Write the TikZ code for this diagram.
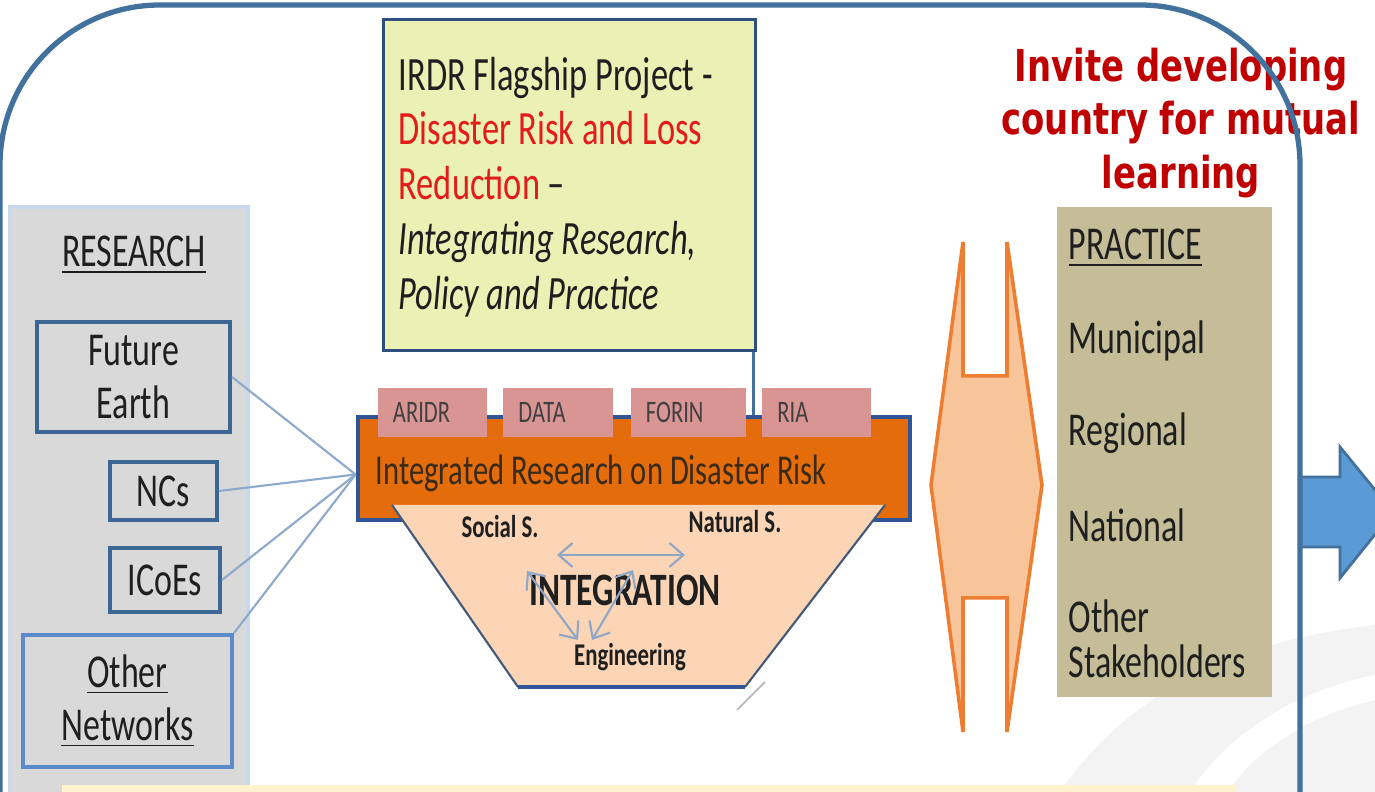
\documentclass[tikz,border=0pt]{standalone}
\usepackage{fontspec}
\usepackage{xcolor}
\usepackage{tikz}
\usetikzlibrary{arrows.meta, positioning}

\newfontfamily\calib{Carlito}[FakeStretch=0.72]
\newfontfamily\verd{DejaVu Sans}[FakeStretch=0.77]

\definecolor{frameblue}{HTML}{41719C}
\definecolor{boxblue}{HTML}{3B6696}
\definecolor{netblue}{HTML}{5B8BC9}
\definecolor{panelgray}{HTML}{D9D9D9}
\definecolor{paneledge}{HTML}{C9D8EA}
\definecolor{linkblue}{HTML}{8DA9CC}
\definecolor{flagyellow}{HTML}{EBF0B5}
\definecolor{flagedge}{HTML}{2F4F7F}
\definecolor{flagred}{HTML}{E31B1B}
\definecolor{irdrorange}{HTML}{E46C0A}
\definecolor{irdredge}{HTML}{2E5597}
\definecolor{irdrtext}{HTML}{3A2A1A}
\definecolor{tabpink}{HTML}{D99594}
\definecolor{tabtext}{HTML}{404040}
\definecolor{funnelfill}{HTML}{FBD5B5}
\definecolor{funneledge}{HTML}{44587A}
\definecolor{arrowgray}{HTML}{8FA6C4}
\definecolor{hexfill}{HTML}{F8C49A}
\definecolor{hexline}{HTML}{ED7D31}
\definecolor{practicefill}{HTML}{C4BD97}
\definecolor{titlered}{HTML}{C00000}
\definecolor{arrowfill}{HTML}{5B9BD5}
\definecolor{stripyellow}{HTML}{FFF2CC}
\definecolor{textdark}{HTML}{1F1F1F}
\definecolor{wmgray}{HTML}{F3F3F4}

\begin{document}
\begin{tikzpicture}[
    x=0.01cm, y=-0.01cm,
    every node/.style={text=textdark},
    orgbox/.style={draw=boxblue, line width=1.1pt, fill=panelgray, align=center, inner sep=0pt,
        font=\calib\fontsize{13.4}{15}\selectfont},
    tabbox/.style={fill=tabpink, minimum height=0.49cm, text width=0.79cm, inner xsep=0.15cm,
        inner ysep=0pt, align=left, text=tabtext, font=\calib\fontsize{8.9}{10}\selectfont},
    linkline/.style={draw=linkblue, line width=0.6pt},
    practext/.style={anchor=west, align=left, inner sep=0pt, font=\calib\fontsize{13.4}{12.9}\selectfont},
    funnellabel/.style={inner sep=0pt, font=\calib\bfseries\fontsize{9}{10}\selectfont},
    intarrow/.style={draw=arrowgray, line width=0.6pt,
        {Straight Barb[length=1.4mm, width=2.4mm]}-{Straight Barb[length=1.4mm, width=2.4mm]}},
  ]
\useasboundingbox (0,0) rectangle (1375,792);
\clip (0,0) rectangle (1375,792);
\fill[white] (0,0) rectangle (1375,792);
% faint backdrop
\fill[wmgray] (1060,792) .. controls (1130,690) and (1240,640) .. (1375,625) -- (1375,792) -- cycle;
\fill[white] (1190,792) .. controls (1230,730) and (1300,690) .. (1375,675) -- (1375,700)
  .. controls (1310,715) and (1255,750) .. (1228,792) -- cycle;

% research side
\draw[fill=panelgray, draw=paneledge, line width=1pt] (10,207) rectangle (248,800);
\node[inner sep=0pt, font=\calib\fontsize{13.4}{15}\selectfont] (restitle) at (134,255) {\underline{RESEARCH}};
\node[orgbox, minimum width=1.93cm, minimum height=1.10cm] (future) at (133.5,377) {Future\\Earth};
\node[orgbox, minimum width=1.07cm, minimum height=0.58cm] (ncs) at (163.5,491) {NCs};
\node[orgbox, minimum width=1.10cm, minimum height=0.64cm] (icoes) at (165,580) {ICoEs};
\node[orgbox, draw=netblue, minimum width=2.09cm, minimum height=1.32cm] (othernet) at (127.5,701) {\underline{Other}\\\underline{Networks}};

% flagship box
\node[draw=flagedge, line width=0.9pt, fill=flagyellow, minimum width=3.71cm, minimum height=3.30cm] (flag) at (569.5,185) {};
\node[anchor=west, align=left, inner sep=0pt, font=\calib\fontsize{13.6}{15.6}\selectfont] (flagtext) at (398,187)
      {IRDR Flagship Project -\\
       \textcolor{flagred}{Disaster Risk and Loss}\\
       \textcolor{flagred}{Reduction} –\\
       \textit{Integrating Research,}\\
       \textit{Policy and Practice}};
\draw[frameblue, line width=1pt] ([xshift=-0.03cm]flag.south east) -- ++(0,82);

% IRDR box and tabs
\node[draw=irdredge, line width=1.3pt, fill=irdrorange, minimum width=5.52cm, minimum height=1.03cm, inner sep=0pt] (irdr) at (634,468.5) {};
\node[tabbox] (aridr) at (432.5,412.5) {ARIDR};
\node[tabbox, right=0.15cm of aridr] (data) {DATA};
\node[tabbox, text width=0.85cm, right=0.17cm of data] (forin) {FORIN};
\node[tabbox, right=0.15cm of forin] (ria) {RIA};
\node[anchor=west, inner sep=0pt, text=irdrtext, font=\calib\fontsize{12.1}{14}\selectfont] (irdrlabel) at (375,473) {Integrated Research on Disaster Risk};

\foreach \src/\anc in {future/east, ncs/east, icoes/east, othernet/north east}
  \draw[linkline] (\src.\anc) -- ([yshift=-0.06cm]irdr.west);

% funnel
\fill[funnelfill] (392,505) -- (885,505) -- (745,687) -- (518,687) -- cycle;
\draw[funneledge, line width=0.6pt] (392,505) -- (518,687) (745,687) -- (885,505);
\draw[irdredge, line width=1.3pt] (518,687) -- (745,687);
\draw[gray!60, line width=0.5pt] (765,682) -- (737,710);

\node[funnellabel] (social) at (500,527) {Social S.};
\node[funnellabel] (natural) at (735,522) {Natural S.};
\node[inner sep=0pt, font=\calib\bfseries\fontsize{13.2}{14}\selectfont] (integ) at (625,590) {INTEGRATION};
\node[funnellabel] (eng) at (630,657) {Engineering};

\coordinate (sL) at (557,555);
\coordinate (sR) at (685,555);
\coordinate (dL) at (527,571);
\coordinate (dR) at (633,570);
\coordinate (eL) at (578,640);
\coordinate (eR) at (592,640);
\draw[intarrow] (sL) -- (sR);
\draw[intarrow] (dL) -- (eL);
\draw[intarrow] (dR) -- (eR);

% two-way link
\draw[fill=hexfill, draw=hexline, line width=1pt]
  (963,242) -- (963,376) -- (1007,376) -- (1007,242) -- (1042,485) -- (1007,732)
  -- (1007,598) -- (963,598) -- (963,732) -- (931,485) -- cycle;

% practice side
\fill[practicefill] (1057,207) rectangle (1272,697);
\node[practext] (practice) at (1068,248) {\underline{PRACTICE}};
\foreach \lvl [count=\i] in {Municipal, Regional, National}
  \node[practext] (level\i) at (1068,{249+92*\i}) {\lvl};
\node[practext] (others) at (1068,639) {Other\\Stakeholders};

\node[align=center, inner sep=0pt, text=titlered, font=\verd\bfseries\fontsize{12.5}{15.1}\selectfont] (invite) at (1181,123)
  {Invite developing\\country for mutual\\learning};

% outgoing arrow
\draw[fill=arrowfill, draw=frameblue, line width=0.8pt]
  (1300,477) -- (1340,477) -- (1340,447) -- (1393,512) -- (1340,578) -- (1340,547) -- (1300,547) -- cycle;

% frame and bottom strip
\draw[frameblue, line width=1.5pt, rounded corners=1.6cm] (0,900) -- (0,5) -- (1300,5) -- (1300,900);
\fill[stripyellow] (62,785) rectangle (1235,800);
\end{tikzpicture}
\end{document}
